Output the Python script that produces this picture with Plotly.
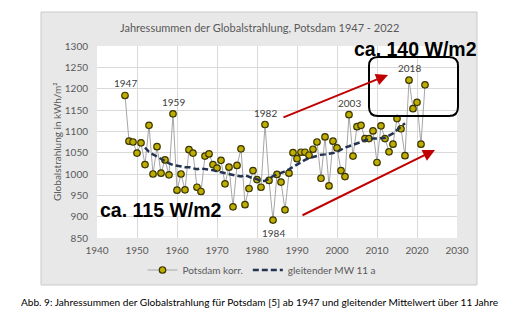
import plotly.graph_objects as go

# ---------------- data ----------------
years = list(range(1947, 2023))
values = [
    1184, 1077, 1075, 1049, 1073, 1022, 1114, 1000, 1064, 1002,   # 1947-1956
    1033, 998, 1141, 962, 1000, 963, 1057, 1049, 969, 959,         # 1957-1966
    1042, 1047, 1022, 1014, 1032, 977, 1016, 923, 1020, 1059,      # 1967-1976
    928, 966, 1008, 987, 969, 1116, 985, 892, 999, 981,            # 1977-1986
    916, 1002, 1050, 1036, 1051, 1051, 1044, 1058, 1075, 990,      # 1987-1996
    1087, 972, 1077, 1061, 1008, 994, 1139, 1042, 1111, 1114,      # 1997-2006
    1083, 1083, 1101, 1027, 1113, 1083, 1052, 1070, 1130, 1106,    # 2007-2016
    1043, 1220, 1153, 1168, 1070, 1209,                            # 2017-2022
]

ma_years = list(range(1952, 2018))
ma_values = [
    1062, 1052, 1046, 1041, 1034, 1029, 1025, 1021, 1019, 1017,    # 1952-1961
    1016, 1016, 1013, 1011, 1013, 1012, 1011, 1009, 1006, 1004,    # 1962-1971
    1002, 999, 997, 995, 994, 997, 993, 990, 988, 983,             # 1972-1981
    984, 990, 995, 999, 1002, 1006, 1011, 1017, 1023, 1029,        # 1982-1991
    1033, 1037, 1040, 1043, 1045, 1046, 1047, 1049, 1052, 1057,    # 1992-2001
    1062, 1065, 1068, 1072, 1075, 1079, 1082, 1083, 1083, 1084,    # 2002-2011
    1085, 1090, 1095, 1103, 1111, 1119,                            # 2012-2017
]

labels_above = [1947, 1959, 1982, 2003, 2018]
labels_below = [1984]

x_ticks = [1940, 1950, 1960, 1970, 1980, 1990, 2000, 2010, 2020, 2030]
y_ticks = [850, 900, 950, 1000, 1050, 1100, 1150, 1200, 1250, 1300]

title_text = "Jahressummen der Globalstrahlung, Potsdam 1947 - 2022"
y_title = "Globalstrahlung in kWh/m²"
series_name = "Potsdam korr."
ma_name = "gleitender MW 11 a"
caption = ("Abb. 9: Jahressummen der Globalstrahlung für Potsdam [5] ab 1947 "
           "und gleitender Mittelwert über 11 Jahre")
note_high = "ca. 140 W/m2"
note_low = "ca. 115 W/m2"

# ---------------- figure ----------------
W, H = 506, 335
L, R, T, B = 97, 457, 46, 238   # plot area in pixels


def px(xp):
    return (xp - L) / (R - L)


def py(yp):
    return (B - yp) / (B - T)


FONT = "Lato, 'Open Sans', sans-serif"
GRAY = "#595959"
BOLD = "'Liberation Sans', Arial, sans-serif"

fig = go.Figure()

fig.add_trace(go.Scatter(
    x=years, y=values, name=series_name, mode="lines+markers",
    line=dict(color="#a6a6a6", width=1),
    marker=dict(symbol="circle", size=6.5, color="#bfad00",
                line=dict(color="#3a3600", width=1.2)),
))
fig.add_trace(go.Scatter(
    x=ma_years, y=ma_values, name=ma_name, mode="lines",
    line=dict(color="#243350", width=2.5, dash="6px,3px"),
))

annotations = []
val_by_year = dict(zip(years, values))
for yr in labels_above:
    annotations.append(dict(x=yr, y=val_by_year[yr], xref="x", yref="y",
                            text=str(yr), showarrow=False, yshift=12,
                            xanchor="center", yanchor="middle",
                            font=dict(family=FONT, size=10, color="#404040")))
for yr in labels_below:
    annotations.append(dict(x=yr, y=val_by_year[yr], xref="x", yref="y",
                            text=str(yr), showarrow=False, yshift=-13,
                            xanchor="center", yanchor="middle",
                            font=dict(family=FONT, size=10, color="#404040")))


def paper_text(xp, yp, text, font, angle=0):
    return dict(x=px(xp), y=py(yp), xref="paper", yref="paper", text=text,
                showarrow=False, xanchor="center", yanchor="middle",
                textangle=angle, font=font)


annotations.append(paper_text(259, 27, title_text,
                              dict(family=FONT, size=11, color=GRAY)))
annotations.append(paper_text(57, 142, y_title,
                              dict(family=FONT, size=10, color=GRAY), -90))
annotations.append(paper_text(259, 302, caption,
                              dict(family=FONT, size=10.1, color="#000000")))
annotations.append(paper_text(415, 49, "<b>" + note_high + "</b>",
                              dict(family=BOLD, size=19.5, color="#000000")))
annotations.append(paper_text(161, 210, "<b>" + note_low + "</b>",
                              dict(family=BOLD, size=19.5, color="#000000")))

# red arrows
annotations.append(dict(x=px(388), y=py(75), xref="paper", yref="paper",
                        ax=-106, ay=43, text="", showarrow=True,
                        arrowhead=2, arrowsize=1.2, arrowwidth=2,
                        arrowcolor="#c00000"))
annotations.append(dict(x=px(435), y=py(150), xref="paper", yref="paper",
                        ax=-134, ay=66, text="", showarrow=True,
                        arrowhead=2, arrowsize=1.2, arrowwidth=2,
                        arrowcolor="#c00000"))

# rounded rectangle in paper coords
x0, x1, y0, y1 = px(369), px(458), py(116), py(57)
rx, ry = 9 / (R - L), 9 / (B - T)
path = (f"M {x0+rx},{y1} L {x1-rx},{y1} Q {x1},{y1} {x1},{y1-ry} "
        f"L {x1},{y0+ry} Q {x1},{y0} {x1-rx},{y0} "
        f"L {x0+rx},{y0} Q {x0},{y0} {x0},{y0+ry} "
        f"L {x0},{y1-ry} Q {x0},{y1} {x0+rx},{y1} Z")

shapes = [
    dict(type="rect", xref="paper", yref="paper", layer="below",
         x0=px(41), x1=px(477), y0=py(285), y1=py(12),
         fillcolor="#e8e8e8", line=dict(color="#c9c9c9", width=1)),
    dict(type="rect", xref="paper", yref="paper", layer="below",
         x0=0, x1=1, y0=0, y1=1, fillcolor="#ffffff", line=dict(width=0)),
    dict(type="path", xref="paper", yref="paper", path=path,
         line=dict(color="#000000", width=2)),
]

fig.update_layout(
    width=W, height=H,
    margin=dict(l=L, r=W - R, t=T, b=H - B, pad=0),
    paper_bgcolor="#ffffff", plot_bgcolor="#ffffff",
    showlegend=True,
    legend=dict(orientation="h", x=px(262), y=py(270), xanchor="center",
                yanchor="middle", bgcolor="rgba(0,0,0,0)",
                font=dict(family=FONT, size=10, color=GRAY),
                itemwidth=30, tracegroupgap=0),
    annotations=annotations,
    shapes=shapes,
    font=dict(family=FONT, color=GRAY),
)
fig.update_xaxes(range=[1940, 2030], tickvals=x_ticks,
                 showgrid=True, gridcolor="#d9d9d9", gridwidth=1,
                 zeroline=False, showline=False,
                 tickfont=dict(family=FONT, size=10, color=GRAY),
                 ticks="", ticklabelstandoff=5)
fig.update_yaxes(range=[850, 1300], tickvals=y_ticks,
                 showgrid=True, gridcolor="#d9d9d9", gridwidth=1,
                 zeroline=False, showline=False,
                 tickfont=dict(family=FONT, size=10, color=GRAY),
                 ticks="", ticklabelstandoff=8)

fig.write_html("out.html")
